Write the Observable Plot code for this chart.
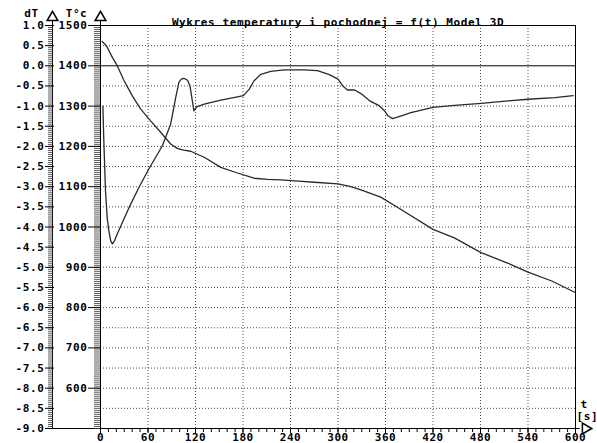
<!DOCTYPE html>
<html><head><meta charset="utf-8">
<script src="https://cdn.jsdelivr.net/npm/d3@7"></script>
<script src="https://cdn.jsdelivr.net/npm/@observablehq/plot@0.6"></script>
<style>html,body{margin:0;padding:0;background:#fff}svg{display:block}</style>
</head><body><div id="chart"></div>
<script>
// Temperature curve T(t)
const tempTime = [2,5,8.5,12,15,21,29.5,40,50.6,63,76,88.6,97,105,114,131,152,173,194,211,228,250,270,300,315,329,354,375,420,447,480,515,540,570,599];
const tempValues = [1460,1455,1446,1432,1421,1401,1364,1326,1293,1264,1235,1206,1195,1191,1188,1173,1148,1134,1121,1118,1117,1114,1111,1107,1101,1092,1074,1049,994,973,937,910,888,866,838];
// Derivative curve dT(t)
const dtTime = [3,4.2,6.3,8.4,10.5,13,15,18,21,36,48.5,61,78,88.6,95,99,102,105.5,110,113,116,118,121.5,131,152,173,180.5,188,194,202.5,215,232,257,274,289,300,306,312,321,329,340,352,359,363,369,380,392,420,447,481,515,540,574,597];
const dtValues = [-1.0,-1.86,-3.1,-3.76,-4.09,-4.35,-4.42,-4.33,-4.18,-3.52,-3.02,-2.56,-1.99,-1.45,-0.79,-0.41,-0.33,-0.31,-0.36,-0.5,-0.87,-1.12,-1.02,-0.95,-0.85,-0.77,-0.74,-0.58,-0.37,-0.21,-0.14,-0.1,-0.1,-0.12,-0.22,-0.33,-0.5,-0.6,-0.6,-0.69,-0.87,-0.99,-1.12,-1.24,-1.31,-1.24,-1.16,-1.03,-0.98,-0.93,-0.87,-0.83,-0.79,-0.74];
// Tick labels
const xTicks = [0,60,120,180,240,300,360,420,480,540,600];
const tempTicks = [600,700,800,900,1000,1100,1200,1300,1400,1500];
const dTTicks = [1.0,0.5,0.0,-0.5,-1.0,-1.5,-2.0,-2.5,-3.0,-3.5,-4.0,-4.5,-5.0,-5.5,-6.0,-6.5,-7.0,-7.5,-8.0,-8.5,-9.0];
const titleText = "Wykres temperatury i pochodnej = f(t) Model 3D";

const toT = d => 1400 + 100 * d;
const tempData = tempTime.map((t, i) => ({t, T: tempValues[i]}));
const dtData = dtTime.map((t, i) => ({t, dT: dtValues[i]}));
const xMinor = d3.range(0, 601, 10);
const tempMinor = d3.range(500, 1501, 5);
const dTMinor = d3.range(0, 201).map(i => toT(-9 + i * 0.05));
const gridTemps = d3.range(550, 1500, 50).filter(v => v !== 1400);
const gridTimes = xTicks.filter(v => v > 0 && v < 600);

const F = "DejaVu Sans Mono";
const lineColor = "#2a2a2a";
const FS = 11;
const chart = Plot.plot({
  width: 597, height: 443,
  marginLeft: 100, marginRight: 22, marginTop: 25, marginBottom: 15,
  x: {domain: [0, 600]},
  y: {domain: [500, 1500]},
  style: {fontFamily: F, fontSize: FS + "px", fontWeight: "bold", background: "#fff", color: "#000", letterSpacing: "0.6px"},
  marks: [
    Plot.gridY(gridTemps, {stroke: "#000", strokeOpacity: 0.7, strokeDasharray: "1,2"}),
    Plot.gridX(gridTimes, {stroke: "#000", strokeOpacity: 0.7, strokeDasharray: "1,2"}),
    Plot.ruleY([1400], {x1: 0, x2: 600, stroke: "#000"}),
    Plot.ruleY([1500], {x1: 0, x2: 600, stroke: "#000"}),
    Plot.ruleX([600], {y1: 500, y2: 1500, stroke: "#000"}),
    Plot.ruleX([0], {y1: 500, y2: 1525, stroke: "#000"}),
    Plot.ruleX([0], {y1: 500, y2: 1525, dx: -48, stroke: "#000"}),
    Plot.ruleY([500], {x1: -63, x2: 606, stroke: "#000"}),
    Plot.axisY(tempMinor, {tickSize: 6, text: null, label: null, stroke: "#333", strokeWidth: 0.8}),
    Plot.axisY(tempTicks, {tickSize: 12, tickPadding: 1, tickFormat: d => String(d), label: null, fontSize: FS}),
    Plot.axisY(dTMinor, {tickSize: 5, dx: -47, text: null, label: null, stroke: "#333", strokeWidth: 0.8}),
    Plot.axisY(dTTicks.map(toT), {tickSize: 9, tickPadding: 1, dx: -46, tickFormat: t => ((t - 1400) / 100).toFixed(1), label: null, fontSize: FS}),
    Plot.axisX(xMinor, {tickSize: 4, text: null, label: null}),
    Plot.axisX(xTicks, {tickSize: 5, tickPadding: 0, tickFormat: d => String(d), label: null, fontSize: FS}),
    Plot.line(tempData, {x: "t", y: "T", stroke: lineColor, strokeWidth: 1.3}),
    Plot.line(dtData, {x: "t", y: d => toT(d.dT), stroke: lineColor, strokeWidth: 1.3}),
    Plot.text([titleText], {frameAnchor: "top", dy: -7, fontSize: FS, fontWeight: "bold"}),
    Plot.text(["dT"], {frameAnchor: "top-left", textAnchor: "middle", lineAnchor: "middle", dx: -69, dy: -12, fontSize: FS}),
    Plot.text(["T°c"], {frameAnchor: "top-left", textAnchor: "middle", lineAnchor: "middle", dx: -24, dy: -12, fontSize: FS}),
    Plot.dot([0], {frameAnchor: "top-left", dx: -48, dy: -8, symbol: "triangle", r: 4, fill: "white", stroke: "black"}),
    Plot.dot([0], {frameAnchor: "top-left", dx: 0, dy: -8, symbol: "triangle", r: 4, fill: "white", stroke: "black"}),
    Plot.dot([0], {frameAnchor: "bottom-right", dx: 10, dy: 0, symbol: "triangle", rotate: 90, r: 4, fill: "white", stroke: "black"}),
    Plot.text(["t"], {frameAnchor: "bottom-right", textAnchor: "start", lineAnchor: "middle", dx: 5, dy: -24, fontSize: FS}),
    Plot.text(["[s]"], {frameAnchor: "bottom-right", textAnchor: "start", lineAnchor: "middle", dx: 1, dy: -12, fontSize: FS, letterSpacing: 0})
  ]
});
document.getElementById("chart").appendChild(chart);
</script>
</body></html>
